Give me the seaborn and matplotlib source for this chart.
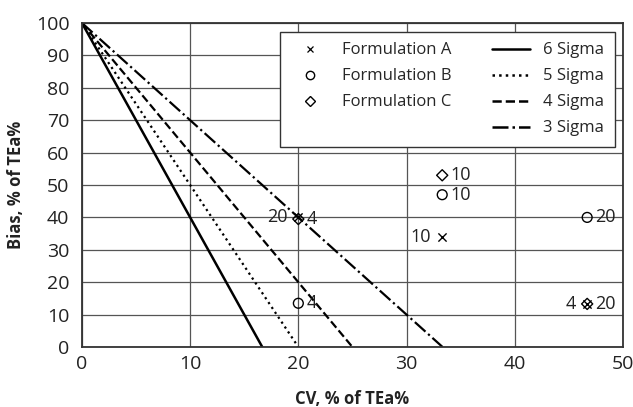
import matplotlib
matplotlib.use("Agg")
import matplotlib.pyplot as plt
import seaborn as sns
import numpy as np
import pandas as pd
from matplotlib.lines import Line2D

# Data
sigma_levels = [6, 5, 4, 3]
sigma_names = ["6 Sigma", "5 Sigma", "4 Sigma", "3 Sigma"]
sigma_styles = ["-", ":", "--", "-."]

form_a_cv = [33.3, 20.0, 46.7]
form_a_bias = [34.0, 40.0, 13.3]
form_a_labels = ["10", "20", "4"]

form_b_cv = [33.3, 46.7, 20.0]
form_b_bias = [47.0, 40.0, 13.5]
form_b_labels = ["10", "20", "4"]

form_c_cv = [33.3, 20.0, 46.7]
form_c_bias = [53.0, 39.5, 13.3]
form_c_labels = ["10", "4", "20"]

sns.set_style("white")
plt.rcParams['font.family'] = ['Open Sans', 'DejaVu Sans']

fig = plt.figure(figsize=(6.33, 4.07), dpi=100)
ax = fig.add_axes([0.1295, 0.1474, 0.8545, 0.7961])

for s, st in zip(sigma_levels, sigma_styles):
    df = pd.DataFrame({"cv": [0, 100.0 / s], "bias": [100, 0]})
    sns.lineplot(data=df, x="cv", y="bias", ax=ax, color="black", lw=1.8 if st == "-" else 1.6,
                 linestyle=st, legend=False)

sns.scatterplot(x=form_a_cv, y=form_a_bias, ax=ax, marker="x", color="black", s=35, linewidth=1.0, legend=False, zorder=5)
sns.scatterplot(x=form_b_cv, y=form_b_bias, ax=ax, marker="o", facecolor="none", edgecolor="black", s=50, linewidth=1.0, legend=False, zorder=5)
sns.scatterplot(x=form_c_cv, y=form_c_bias, ax=ax, marker="D", facecolor="none", edgecolor="black", s=32, linewidth=1.0, legend=False, zorder=5)

fs = 13
for x, y, t in zip(form_a_cv, form_a_bias, form_a_labels):
    ax.annotate(t, (x, y), xytext=(-8, 0), textcoords="offset points", ha="right", va="center", fontsize=fs, color="#222222")
for x, y, t in zip(form_b_cv, form_b_bias, form_b_labels):
    ax.annotate(t, (x, y), xytext=(6, 0), textcoords="offset points", ha="left", va="center", fontsize=fs, color="#222222")
for x, y, t in zip(form_c_cv, form_c_bias, form_c_labels):
    ax.annotate(t, (x, y), xytext=(6, 0), textcoords="offset points", ha="left", va="center", fontsize=fs, color="#222222")

ax.set_xlim(0, 50)
ax.set_ylim(0, 100)
ax.set_xticks(range(0, 51, 10))
ax.set_yticks(range(0, 101, 10))
ax.tick_params(axis="both", length=0, labelsize=14, colors="#222222")
ax.tick_params(axis="y", pad=9)
ax.tick_params(axis="x", pad=6)
ax.grid(True, color="#555555", lw=0.9)
ax.set_axisbelow(True)
for sp in ax.spines.values():
    sp.set_color("#333333")
    sp.set_linewidth(1.3)

ax.set_xlabel("CV, % of TEa%", fontsize=12, fontweight="bold", color="#222222")
ax.set_ylabel("Bias, % of TEa%", fontsize=12, fontweight="bold", color="#222222")
ax.xaxis.set_label_coords(0.5, -0.133)
ax.yaxis.set_label_coords(-0.105, 0.5)

handles = [
    Line2D([], [], marker="x", color="black", linestyle="none", markersize=5, mew=0.9),
    Line2D([], [], marker="o", markerfacecolor="none", markeredgecolor="black", linestyle="none", markersize=6),
    Line2D([], [], marker="D", markerfacecolor="none", markeredgecolor="black", linestyle="none", markersize=5),
    Line2D([], [], linestyle="none"),
]
labels = ["Formulation A", "Formulation B", "Formulation C", ""]
for n, st in zip(sigma_names, sigma_styles):
    handles.append(Line2D([], [], color="black", linestyle=st, lw=1.8))
    labels.append(n)

leg = ax.legend(handles, labels, ncol=2, loc="upper right", bbox_to_anchor=(0.985, 0.972),
                borderaxespad=0.0,
                fontsize=12, frameon=True, fancybox=False, edgecolor="#333333",
                framealpha=1, columnspacing=2.4, handlelength=2.3, labelspacing=0.6,
                borderpad=0.62, handletextpad=0.8)
leg.get_frame().set_linewidth(1.0)

fig.savefig("out.png", dpi=100)
